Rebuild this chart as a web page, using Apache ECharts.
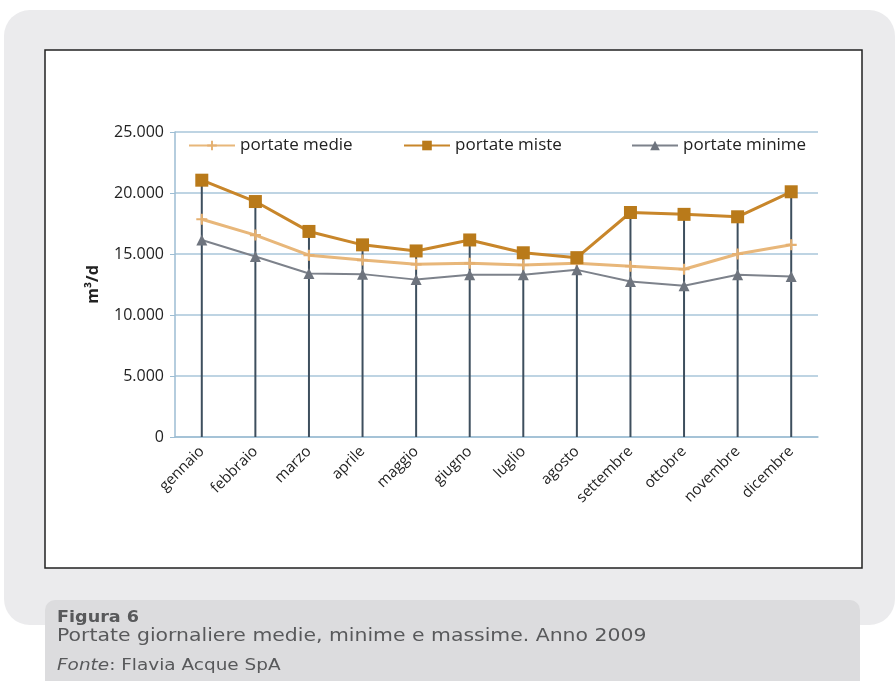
<!DOCTYPE html>
<html>
<head>
<meta charset="utf-8">
<script src="https://cdn.jsdelivr.net/npm/echarts@6/dist/echarts.min.js"></script>
<style>
  body { margin: 0; background: #fff; }
  #main { width: 895px; height: 681px; }
</style>
</head>
<body>
<div id="main"></div>
<script>
// mesi
var mesi = ['gennaio', 'febbraio', 'marzo', 'aprile', 'maggio', 'giugno',
  'luglio', 'agosto', 'settembre', 'ottobre', 'novembre', 'dicembre'];
// portate (m3/d)
var medie = [17850, 16550, 14900, 14500, 14150, 14250, 14100, 14250, 14000, 13750, 15000, 15750];
var miste = [21050, 19300, 16850, 15750, 15250, 16150, 15100, 14700, 18400, 18250, 18050, 20100];
var minime = [16150, 14800, 13400, 13350, 12900, 13300, 13300, 13700, 12750, 12400, 13300, 13150];
var nomi = ['portate medie', 'portate miste', 'portate minime'];

var plus = 'path://M4,0H6V4H10V6H6V10H4V6H0V4H4Z';
var font = 'Open Sans';
var capFont = 'DejaVu Sans';

var chart = echarts.init(document.getElementById('main'));

function fmt(v) {
  return String(v).replace(/\B(?=(\d{3})+(?!\d))/g, '.');
}

// didascalia: testo un po' allargato come nell'originale
function riga(txt, y, size, sx, extra) {
  var st = { text: txt, fill: '#58595b', font: size + 'px "' + capFont + '"', verticalAlign: 'middle' };
  if (extra) Object.assign(st, extra);
  return { type: 'text', x: 57, y: y, scaleX: sx, style: st };
}

var option = {
  animation: false,
  backgroundColor: '#fff',
  graphic: [
    { type: 'rect', z: -10, shape: { x: 4, y: 10, width: 891, height: 615, r: 26 },
      style: { fill: '#ebebed' } },
    { type: 'rect', z: -9, shape: { x: 45, y: 50, width: 817, height: 518 },
      style: { fill: '#fff', stroke: '#222', lineWidth: 1.5 } },
    { type: 'rect', z: -9, shape: { x: 45, y: 600, width: 815, height: 90, r: 10 },
      style: { fill: '#dcdcde' } },
    riga('Figura 6', 618, 16, 1.1, { font: 'bold 16px "' + capFont + '"' }),
    riga('Portate giornaliere medie, minime e massime. Anno 2009', 637, 17, 1.2),
    riga('{i|Fonte}: Flavia Acque SpA', 666, 15, 1.23,
      { rich: { i: { fontStyle: 'italic', fontSize: 15, fontFamily: capFont, fill: '#58595b' } } })
  ],
  legend: [
    { data: [nomi[0]], left: 183, top: 132 },
    { data: [nomi[1]], left: 398, top: 132 },
    { data: [nomi[2]], left: 626, top: 132 }
  ].map(function (l) {
    l.itemWidth = 46; l.itemHeight = 12; l.itemGap = 4;
    l.textStyle = { fontFamily: font, fontSize: 17, color: '#222' };
    return l;
  }),
  grid: { left: 175, right: 77, top: 132, bottom: 244 },
  xAxis: {
    type: 'category',
    data: mesi,
    axisLine: { lineStyle: { color: '#9dbdd3', width: 1.5 } },
    axisTick: { show: false },
    axisLabel: { rotate: 45, color: '#222', fontFamily: font, fontSize: 15, margin: 12 },
    splitLine: { show: false }
  },
  yAxis: {
    type: 'value',
    min: 0, max: 25000, interval: 5000,
    name: 'm³/d',
    nameLocation: 'middle',
    nameRotate: 90,
    nameGap: 74,
    nameTextStyle: { fontFamily: font, fontSize: 16, fontWeight: 'bold', color: '#222' },
    axisLine: { show: true, lineStyle: { color: '#9dbdd3', width: 1.5 } },
    axisTick: { show: true, length: 5, lineStyle: { color: '#9dbdd3' } },
    axisLabel: { color: '#222', fontFamily: font, fontSize: 16, margin: 11, formatter: fmt },
    splitLine: { lineStyle: { color: '#a9c6da', width: 1.5 } }
  },
  series: [
    {
      name: 'drop', type: 'bar', data: miste, barWidth: 2, z: 1,
      itemStyle: { color: '#3e4f5e' }, silent: true
    },
    {
      name: nomi[0], type: 'line', data: medie, z: 3,
      symbol: plus, symbolSize: 11,
      lineStyle: { color: '#e8b77a', width: 3 },
      itemStyle: { color: '#e5b070' }
    },
    {
      name: nomi[1], type: 'line', data: miste, z: 4,
      symbol: 'rect', symbolSize: 13,
      lineStyle: { color: '#c8862a', width: 3 },
      itemStyle: { color: '#b97a1a' }
    },
    {
      name: nomi[2], type: 'line', data: minime, z: 3,
      symbol: 'triangle', symbolSize: 11,
      lineStyle: { color: '#7d828b', width: 2 },
      itemStyle: { color: '#6e747e' }
    }
  ]
};

chart.setOption(option);
</script>
</body>
</html>
